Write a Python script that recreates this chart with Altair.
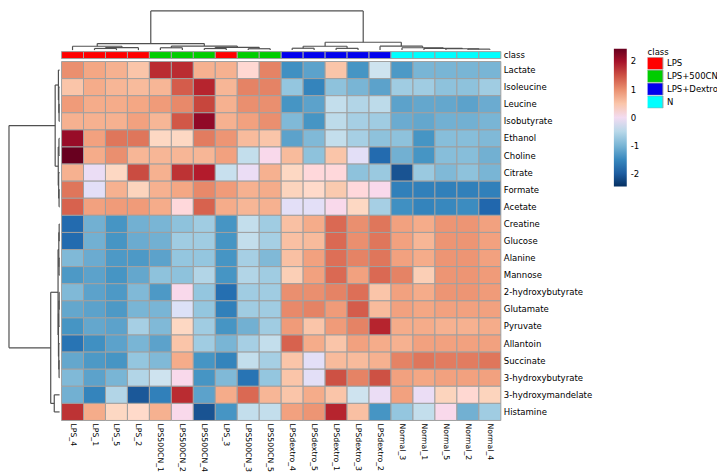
import altair as alt
import pandas as pd

# ---------------- data ----------------
samples = ["LPS_4", "LPS_1", "LPS_5", "LPS_2", "LPS500CN_1", "LPS500CN_2", "LPS500CN_4",
           "LPS_3", "LPS500CN_3", "LPS500CN_5", "LPSdextro_4", "LPSdextro_5", "LPSdextro_1",
           "LPSdextro_3", "LPSdextro_2", "Normal_3", "Normal_1", "Normal_5", "Normal_2", "Normal_4"]
sample_class = ["LPS", "LPS", "LPS", "LPS", "LPS+500CN", "LPS+500CN", "LPS+500CN", "LPS",
                "LPS+500CN", "LPS+500CN", "LPS+Dextro", "LPS+Dextro", "LPS+Dextro", "LPS+Dextro",
                "LPS+Dextro", "N", "N", "N", "N", "N"]
class_names = ["LPS", "LPS+500CN", "LPS+Dextro", "N"]
class_colors = ["#FF0000", "#00CD00", "#0000EE", "#00FFFF"]

metabolites = ["Lactate", "Isoleucine", "Leucine", "Isobutyrate", "Ethanol", "Choline", "Citrate",
               "Formate", "Acetate", "Creatine", "Glucose", "Alanine", "Mannose",
               "2-hydroxybutyrate", "Glutamate", "Pyruvate", "Allantoin", "Succinate",
               "3-hydroxybutyrate", "3-hydroxymandelate", "Histamine"]

v_lactate = [1.0, 0.8, 0.7, 0.5, 1.8, 1.8, 0.7, 0.7, 0.2, 1.1, -1.4, -1.2, 0.5, -1.35, -0.3, -1.3, -1.0, -1.0, -1.0, -1.0]
v_isoleucine = [0.5, 0.75, 0.65, 0.6, 0.65, 1.4, 1.85, 0.65, 1.1, 1.1, -0.8, -1.55, -0.85, -1.0, -1.2, -0.7, -0.7, -0.85, -0.85, -0.7]
v_leucine = [0.9, 0.75, 0.75, 0.8, 0.9, 1.05, 1.6, 0.7, 1.0, 1.0, -1.35, -1.2, -0.4, -0.55, -0.45, -1.2, -1.15, -1.15, -1.2, -1.1]
v_isobutyrate = [0.7, 0.7, 0.7, 0.85, 0.65, 1.45, 2.15, 0.7, 0.85, 1.0, -0.95, -1.35, -0.45, -0.65, -0.7, -1.1, -1.15, -1.05, -1.05, -1.0]
v_ethanol = [2.1, 0.85, 1.2, 1.2, 0.3, 0.3, 1.15, 0.95, 0.6, 0.5, -1.2, -0.95, -0.4, -0.65, -0.85, -0.85, -1.35, -0.9, -0.9, -0.95]
v_choline = [2.45, 0.75, 1.0, 0.65, 0.65, 0.65, 0.65, 0.85, -0.4, 0.05, 0.6, -0.85, 0.5, -0.1, -1.85, -1.05, -1.35, -0.9, -0.9, -1.05]
v_citrate = [0.7, -0.05, 0.3, 1.55, 0.7, 1.75, 1.9, -0.35, -0.05, 0.7, 0.3, 0.15, 0.15, -0.85, -0.75, -2.1, -0.75, -0.95, -0.85, -1.0]
v_formate = [1.2, -0.1, 0.7, 0.35, 0.7, 0.8, 1.05, 0.9, 0.7, 0.75, 0.35, 0.25, 0.45, 0.15, 0.05, -1.6, -1.6, -1.6, -1.6, -1.6]
v_acetate = [1.35, 0.85, 0.9, 0.9, 0.75, 0.15, 1.35, 0.75, 0.65, 0.7, -0.1, -0.1, 0.05, 0.3, -0.65, -1.4, -1.55, -1.5, -1.45, -1.9]
v_creatine = [-1.85, -1.05, -1.35, -1.05, -1.0, -0.85, -0.7, -1.35, -0.4, -0.7, 0.55, 0.75, 1.3, 1.0, 1.2, 0.85, 0.75, 0.95, 0.95, 0.85]
v_glucose = [-1.85, -1.05, -1.35, -1.1, -1.05, -0.7, -0.7, -1.35, -0.4, -0.65, 0.55, 0.6, 1.3, 1.0, 1.2, 0.85, 0.65, 0.95, 0.95, 0.85]
v_alanine = [-0.95, -1.1, -1.3, -1.3, -1.2, -0.8, -0.8, -1.35, -0.65, -0.95, 0.55, 0.85, 1.25, 1.1, 1.2, 0.85, 0.75, 0.95, 0.95, 0.85]
v_mannose = [-1.3, -1.2, -1.35, -1.15, -0.85, -0.85, -0.55, -1.35, -0.55, -0.7, 0.4, 0.85, 1.3, 0.85, 1.3, 1.1, 0.4, 0.95, 0.95, 0.9]
v_2hb = [-0.95, -1.2, -1.3, -0.95, -1.3, 0.05, -0.8, -1.8, -0.7, -0.7, 1.0, 1.0, 1.1, 1.25, 0.5, 0.85, 0.75, 0.95, 0.95, 0.9]
v_glutamate = [-1.15, -1.2, -1.3, -1.0, -1.0, -0.15, -0.8, -1.6, -0.7, -0.7, 1.05, 1.1, 0.9, 1.4, 0.6, 0.85, 0.8, 0.85, 0.85, 0.85]
v_pyruvate = [-1.35, -1.15, -1.2, -0.65, -0.95, 0.3, -0.7, -1.35, -1.05, -0.7, 0.9, 0.5, 0.9, 1.1, 1.85, 0.75, 0.75, 0.7, 0.7, 0.75]
v_allantoin = [-1.75, -1.4, -1.2, -1.0, -1.2, 0.5, -0.7, -1.0, -0.65, -0.4, 1.35, 0.75, 0.5, 0.85, 0.75, 0.7, 0.85, 0.85, 0.85, 0.85]
v_succinate = [-1.15, -1.3, -1.35, -0.8, -0.95, 0.75, -1.35, -1.55, -0.4, -0.65, 0.5, -0.1, 0.6, 0.6, 0.7, 1.1, 1.2, 1.15, 1.15, 1.2]
v_3hb = [-0.95, -1.2, -1.0, -0.55, -0.3, 0.05, -1.35, -0.95, -1.75, -0.8, 0.5, -0.1, 1.5, 1.1, 1.5, 0.85, 0.8, 0.85, 0.85, 0.85]
v_3hm = [-1.05, -1.55, -0.55, -2.05, -1.6, 1.8, -1.2, 0.75, 1.3, 0.65, 0.5, 0.75, 0.5, -0.3, -0.05, 0.85, -0.05, 0.35, 0.2, 0.35]
v_histamine = [1.75, 0.75, 0.3, 0.25, 0.7, 0.05, -2.1, -1.35, -0.4, -0.4, 0.85, 0.95, 1.85, 0.55, -1.35, -0.8, -0.4, 0.05, -1.05, -0.7]

row_values = [v_lactate, v_isoleucine, v_leucine, v_isobutyrate, v_ethanol, v_choline, v_citrate,
              v_formate, v_acetate, v_creatine, v_glucose, v_alanine, v_mannose, v_2hb,
              v_glutamate, v_pyruvate, v_allantoin, v_succinate, v_3hb, v_3hm, v_histamine]

# clustering trees: (merge height, left, right); leaves are positions in display order
col_tree = (1.0,
            (0.167, (0.098, 0, (0.0625, (0.042, 1, 2), 3)),
                    (0.104, (0.06, 4, 5), (0.07, (0.04, 6, 7), (0.035, 8, 9)))),
            (0.2, (0.098, (0.048, 10, 11), (0.045, 12, 13)),
                  (0.1, 14, (0.06, 15, (0.045, 16, (0.035, 17, (0.025, 18, 19)))))))
row_tree = (1.0,
            (0.087, (0.023, 0, (0.015, 1, (0.01, 2, 3))),
                    (0.026, (0.012, 4, 5), (0.018, 6, (0.01, 7, 8)))),
            (0.175, (0.03, (0.015, (0.008, 9, 10), (0.01, 11, 12)),
                           (0.022, (0.014, (0.008, 13, 14), 15), (0.016, 16, (0.01, 17, 18)))),
                    (0.105, 19, 20)))

color_range = ["#053061", "#2166AC", "#4393C3", "#92C5DE", "#D1E5F0",
               "#FDDBC7", "#F4A582", "#D6604D", "#B2182B", "#67001F"]
vmax = 2.46

# ---------------- layout constants (scale units) ----------------
NC, NR = len(samples), len(metabolites)
W, H = 497, 414
XDOM = [-2.438, NC]
YDOM = [-3.016, NR]
TOP_LEAF, TOP_SPAN = -0.667, 2.29
LEFT_LEAF, LEFT_SPAN = -0.09, 2.303
BAR_Y, BAR_Y2 = -0.58, -0.173
FONT = "DejaVu Sans"
FS = 8.6
FS_COL = 7.8


def segments(node):
    if isinstance(node, int):
        return node + 0.5, 0.0, []
    h, l, r = node
    lp, lh, ls = segments(l)
    rp, rh, rs = segments(r)
    segs = ls + rs + [(lp, h, rp, h), (lp, lh, lp, h), (rp, rh, rp, h)]
    return (lp + rp) / 2, h, segs


_, _, cs = segments(col_tree)
top_df = pd.DataFrame([{"x": a, "x2": c, "y": TOP_LEAF - b * TOP_SPAN, "y2": TOP_LEAF - d * TOP_SPAN}
                       for a, b, c, d in cs])
_, _, rs = segments(row_tree)
left_df = pd.DataFrame([{"y": a, "y2": c, "x": LEFT_LEAF - b * LEFT_SPAN, "x2": LEFT_LEAF - d * LEFT_SPAN}
                        for a, b, c, d in rs])

cells = []
for r, (m, vals) in enumerate(zip(metabolites, row_values)):
    for c, (s, v) in enumerate(zip(samples, vals)):
        cells.append({"metabolite": m, "sample": s, "value": v, "x": c, "x2": c + 1, "y": r, "y2": r + 1})
heat_df = pd.DataFrame(cells)

class_df = pd.DataFrame({"cls": sample_class, "x": list(range(NC)), "x2": [i + 1 for i in range(NC)],
                         "y": [BAR_Y] * NC, "y2": [BAR_Y2] * NC})
rowlab_df = pd.DataFrame({"name": metabolites, "x": [NC] * NR, "y": [i + 0.5 for i in range(NR)]})
collab_df = pd.DataFrame({"name": samples, "x": [i + 0.5 for i in range(NC)], "y": [NR] * NC})
classlab_df = pd.DataFrame({"name": ["class"], "x": [NC], "y": [(BAR_Y + BAR_Y2) / 2]})

xs = alt.Scale(domain=XDOM, nice=False, zero=False)
ys = alt.Scale(domain=YDOM, nice=False, zero=False, reverse=True)
X = lambda f="x": alt.X(f"{f}:Q", scale=xs, axis=None)
Y = lambda f="y": alt.Y(f"{f}:Q", scale=ys, axis=None)

heat = alt.Chart(heat_df).mark_rect(stroke="#A0A0A0", strokeWidth=1).encode(
    x=X(), x2="x2", y=Y(), y2="y2",
    color=alt.Color("value:Q",
                    scale=alt.Scale(domain=[-vmax, vmax], range=color_range),
                    legend=alt.Legend(orient="none", legendX=611, legendY=39, title=None,
                                      direction="vertical", gradientLength=139,
                                      gradientThickness=13, values=[-2, -1, 0, 1, 2],
                                      labelExpr="datum.value < 0 ? '-' + abs(datum.value) : '' + datum.value",
                                      labelFontSize=FS, labelFont=FONT, labelOffset=4,
                                      gradientStrokeWidth=0, labelColor="#000")),
)

classbar = alt.Chart(class_df).mark_rect(stroke="#A0A0A0", strokeWidth=1).encode(
    x=X(), x2="x2", y=Y(), y2="y2",
    color=alt.Color("cls:N", scale=alt.Scale(domain=class_names, range=class_colors),
                    legend=alt.Legend(orient="none", legendX=645, legendY=38, title="class",
                                      titleFontSize=FS, titleFont=FONT, titleFontWeight="normal",
                                      titlePadding=1, labelFontSize=FS, labelFont=FONT,
                                      symbolType="M-1.36,-1L1.36,-1L1.36,1L-1.36,1Z",
                                      symbolSize=156, symbolStrokeColor="#A0A0A0",
                                      symbolStrokeWidth=1, symbolOpacity=1, rowPadding=0,
                                      clipHeight=12.5,
                                      labelOffset=5.5, labelColor="#000", titleColor="#000")),
)

top_dend = alt.Chart(top_df).mark_rule(color="#505050", strokeWidth=1.2).encode(
    x=X(), x2="x2", y=Y(), y2="y2")
left_dend = alt.Chart(left_df).mark_rule(color="#505050", strokeWidth=1.2).encode(
    x=X(), x2="x2", y=Y(), y2="y2")

rowlab = alt.Chart(rowlab_df).mark_text(align="left", baseline="middle", dx=3, fontSize=FS,
                                        font=FONT, color="#000").encode(
    x=X(), y=Y(), text="name:N")
collab = alt.Chart(collab_df).mark_text(align="left", baseline="middle", angle=90, dx=3,
                                        fontSize=FS_COL, font=FONT, color="#000").encode(
    x=X(), y=Y(), text="name:N")
classlab = alt.Chart(classlab_df).mark_text(align="left", baseline="middle", dx=3, fontSize=FS,
                                            font=FONT, color="#000").encode(
    x=X(), y=Y(), text="name:N")

chart = alt.layer(heat, classbar, top_dend, left_dend, rowlab, collab, classlab).resolve_scale(
    color="independent"
).properties(
    width=W, height=H, autosize=alt.AutoSizeParams(type="none"),
    padding={"left": 0, "top": 0, "right": 218, "bottom": 52}
).configure_view(stroke=None)

chart.save("out.html", embed_options={"renderer": "svg", "actions": False})
